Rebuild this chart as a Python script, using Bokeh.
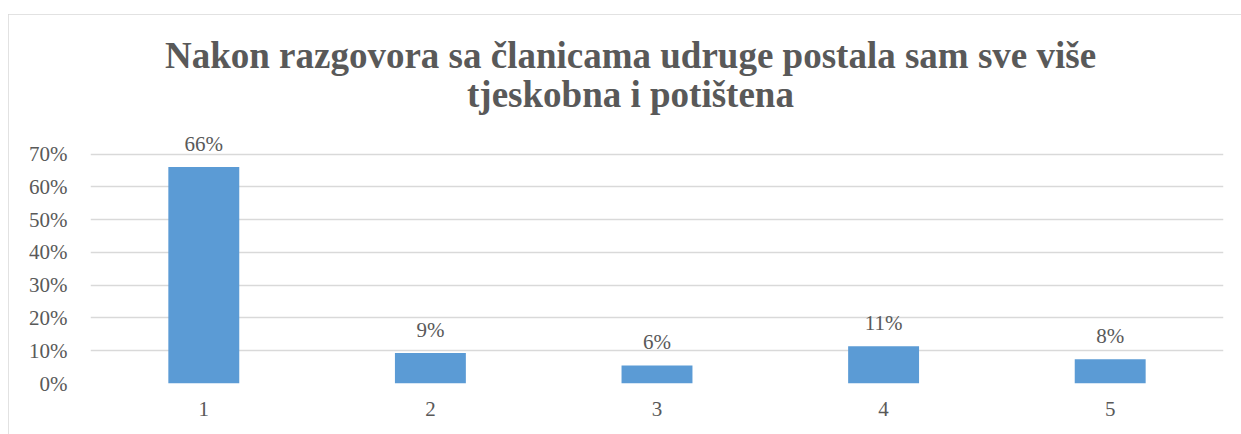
from bokeh.plotting import figure
from bokeh.models import FactorRange, Range1d, FixedTicker, NumeralTickFormatter, Label, ColumnDataSource
from bokeh.core.properties import value
from bokeh.embed import file_html
from bokeh.resources import INLINE

title_text = "Nakon razgovora sa članicama udruge postala sam sve više\ntjeskobna i potištena"
categories = ["1", "2", "3", "4", "5"]
shares = [0.661, 0.093, 0.055, 0.114, 0.074]
share_labels = ["66%", "9%", "6%", "11%", "8%"]
y_ticks = [0.0, 0.1, 0.2, 0.3, 0.4, 0.5, 0.6, 0.7]

FONT = "Liberation Serif"
TXT = "#595959"

p = figure(width=1233, height=420, output_backend="svg", toolbar_location=None,
           x_range=FactorRange(*categories), y_range=Range1d(0, 1.065),
           min_border_left=82, min_border_right=18, min_border_top=20, min_border_bottom=51)
p.margin = (14, 0, 0, 8)
p.styles = {"box-shadow": "inset 1px 1px 0 #d9d9d9"}
p.outline_line_color = None
p.background_fill_color = "white"
p.border_fill_color = "white"

src = ColumnDataSource(dict(cat=categories, val=shares, lab=share_labels))
p.vbar(x="cat", top="val", width=0.313, source=src, fill_color="#5B9BD5", line_color=None)
p.text(x="cat", y="val", text="lab", source=src, text_align="center", text_baseline="alphabetic",
       y_offset=-23, text_font=value(FONT), text_font_size="21px", text_color=TXT)

p.add_layout(Label(x=2.383, y=0.94, text=title_text, text_align="center", text_baseline="middle",
                   text_font=FONT, text_font_size="37px", text_font_style="bold",
                   text_color=TXT, text_line_height=0.95))

p.yaxis.ticker = FixedTicker(ticks=y_ticks)
p.yaxis.formatter = NumeralTickFormatter(format="0%")
p.xgrid.grid_line_color = None
p.ygrid.grid_line_color = "#d9d9d9"
p.ygrid.grid_line_width = 1.4
for ax in (p.xaxis, p.yaxis):
    ax.axis_line_color = None
    ax.major_tick_line_color = None
    ax.minor_tick_line_color = None
    ax.major_tick_out = 0
    ax.major_tick_in = 0
    ax.major_label_text_font = FONT
    ax.major_label_text_font_size = "21px"
    ax.major_label_text_color = TXT
p.yaxis.major_label_standoff = 23
p.xaxis.major_label_standoff = 18

open("out.html", "w").write(file_html(p, INLINE))
